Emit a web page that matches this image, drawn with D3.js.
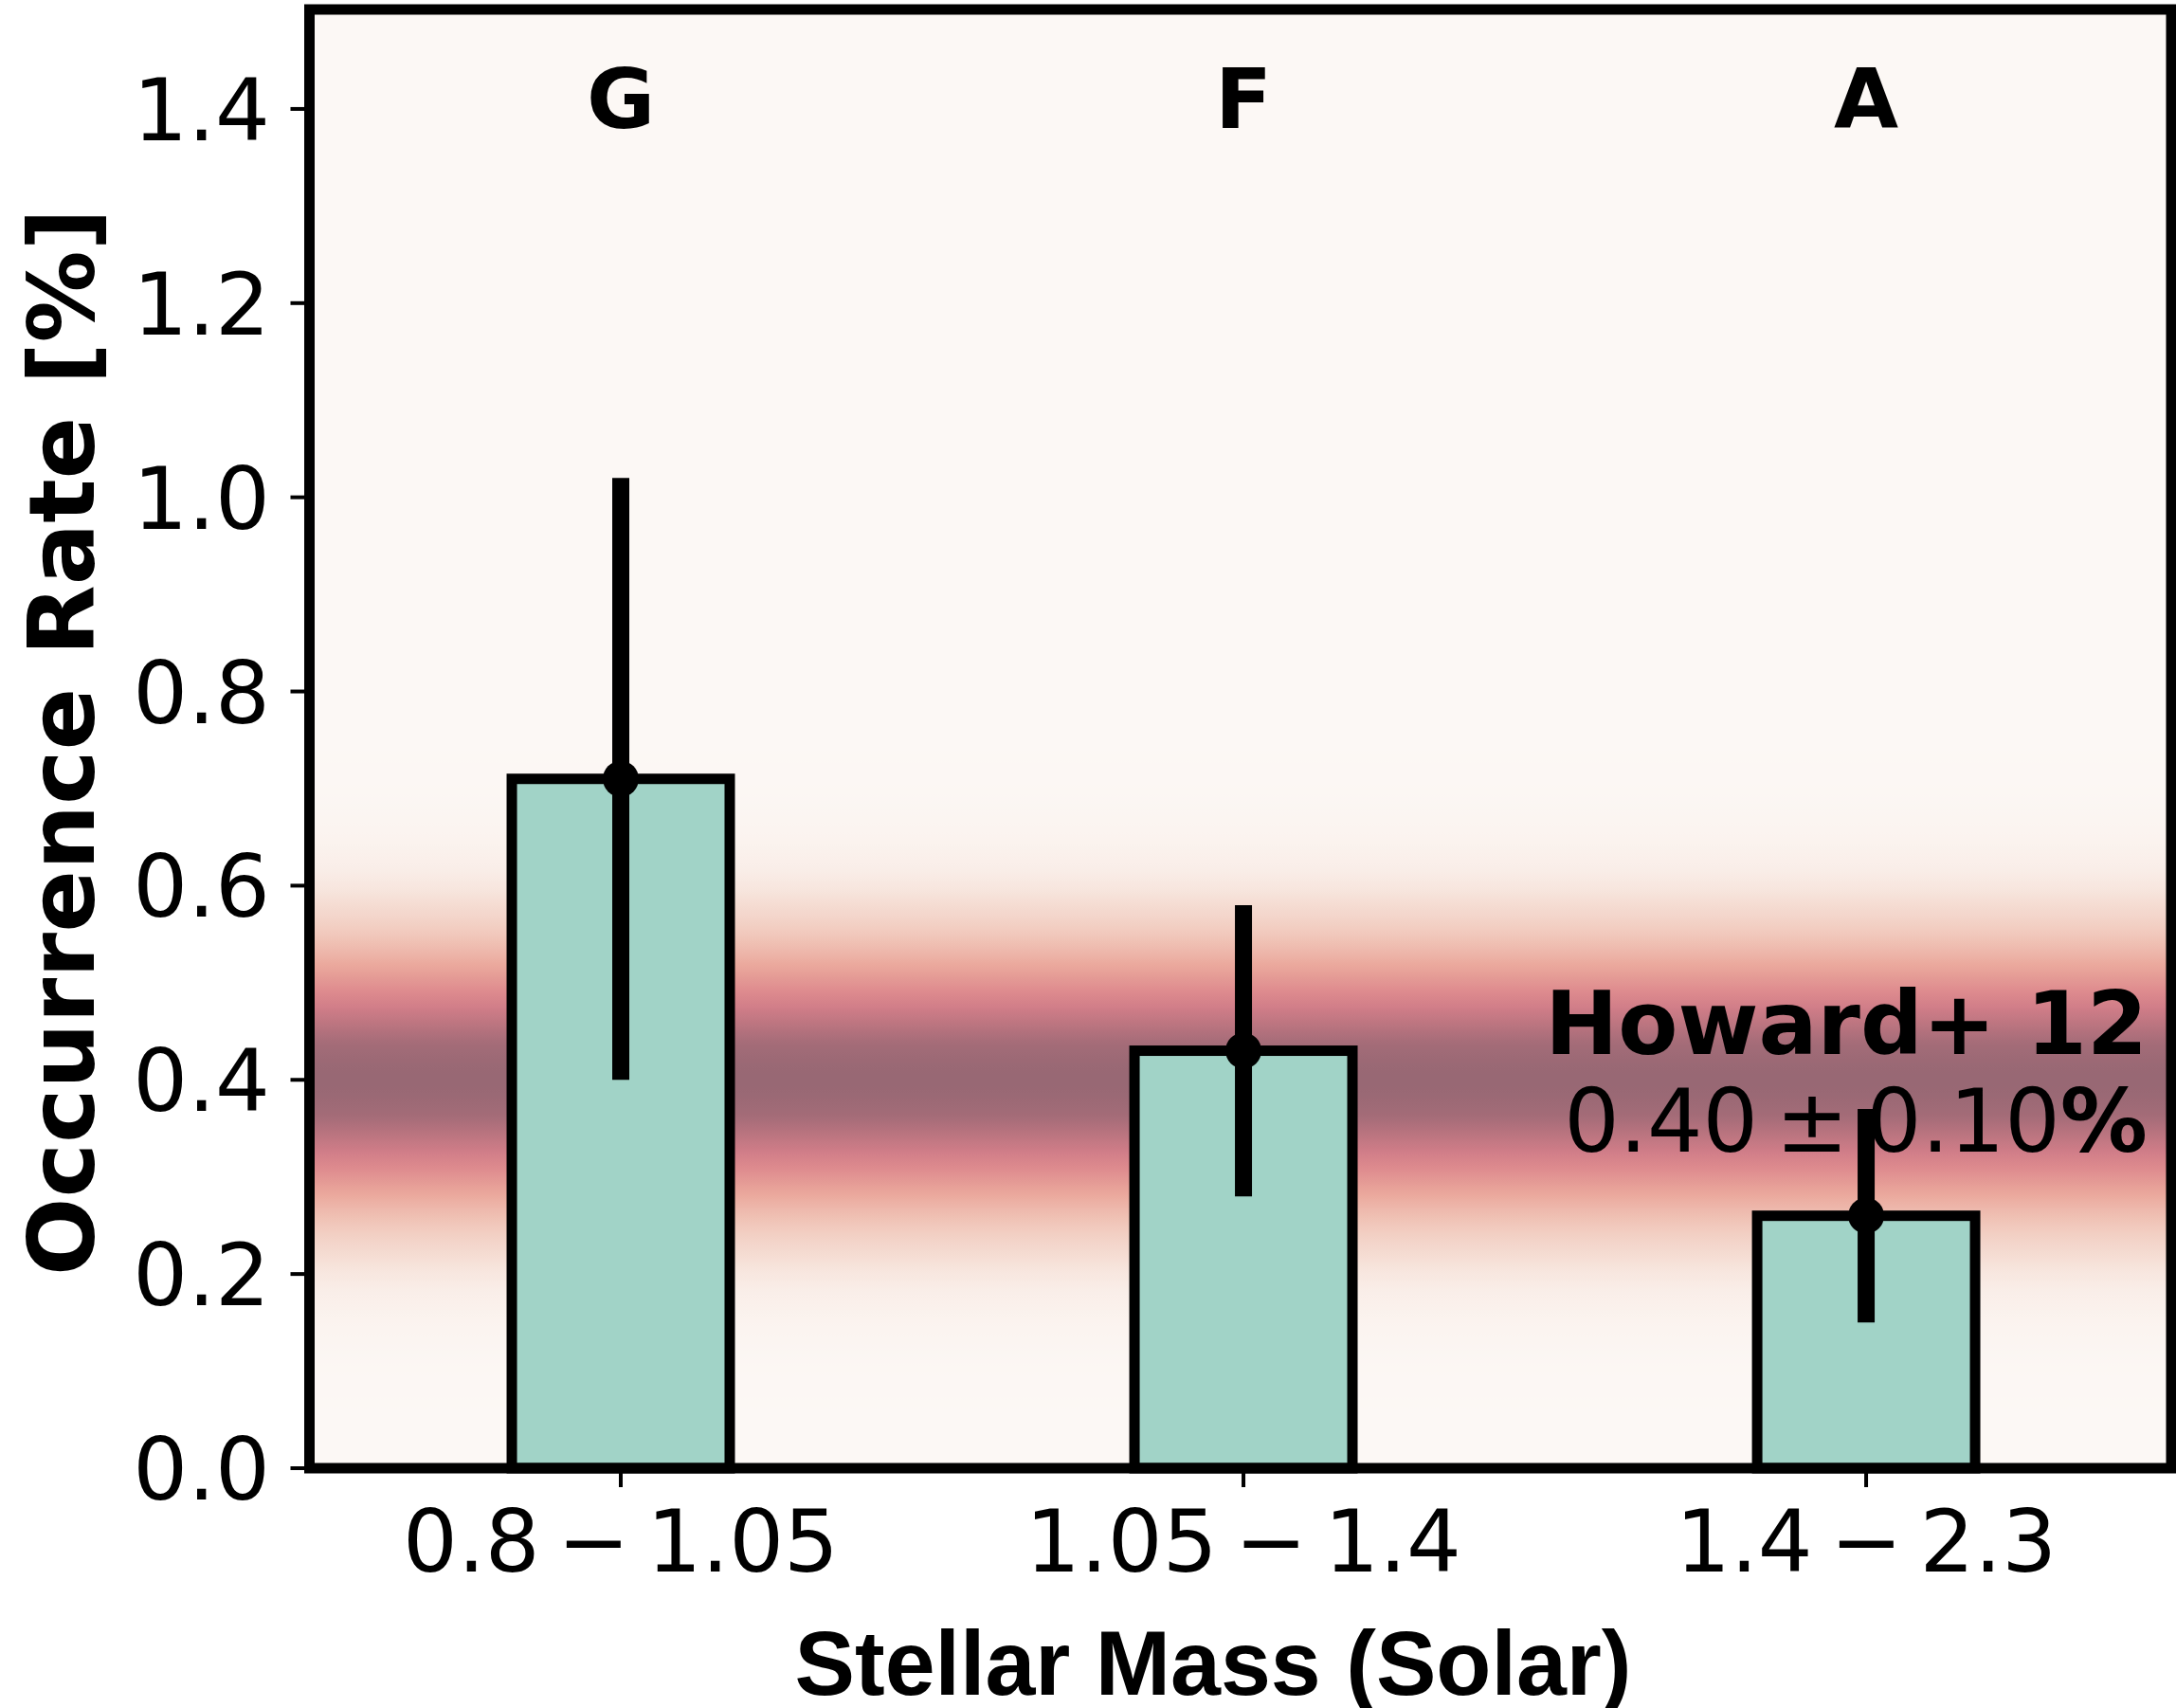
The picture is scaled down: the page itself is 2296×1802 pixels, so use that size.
<!DOCTYPE html>
<html>
<head>
<meta charset="utf-8">
<script src="https://cdn.jsdelivr.net/npm/d3@7"></script>
<style>
  html, body { margin: 0; padding: 0; background: #ffffff; }
  svg { display: block; }
</style>
</head>
<body>
<div id="chart"></div>
<script>
// Stellar-mass bins, spectral classes and occurrence rates
const massBins = ["0.8 \u2212 1.05", "1.05 \u2212 1.4", "1.4 \u2212 2.3"];
const spectralTypes = ["G", "F", "A"];
const occurrence = [0.71, 0.43, 0.26];
const occurrenceErr = [0.31, 0.15, 0.11];
const yTicks = [0.0, 0.2, 0.4, 0.6, 0.8, 1.0, 1.2, 1.4];

// Reference measurement shown as a gaussian band
const refLabel = "Howard+ 12";
const refMean = 0.40;
const refSigma = 0.10;

const W = 2296, H = 1802;
const plot = { left: 326.5, right: 2291, top: 12.5, bottom: 1549 };

const svg = d3.select("#chart").append("svg")
  .attr("width", W).attr("height", H);

const x = d3.scaleLinear().domain([-0.5, 2.49]).range([plot.left, plot.right]);
const y = d3.scaleLinear().domain([0, 1.5]).range([plot.bottom, plot.top]);

// colour ramp used for the gaussian band (weight 0 -> 1)
const bandColor = d3.scaleLinear()
  .domain([0, 0.1, 0.2, 0.35, 0.5, 0.65, 0.75, 0.85, 0.93, 1.0])
  .range(["#fcf8f5", "#f9ede7", "#f5dcd2", "#f0c4b7", "#eaa89c",
          "#df8d8f", "#d27e89", "#bc7580", "#a56c78", "#986874"])
  .interpolate(d3.interpolateRgb);

const defs = svg.append("defs");
const grad = defs.append("linearGradient")
  .attr("id", "refBand")
  .attr("gradientUnits", "userSpaceOnUse")
  .attr("x1", 0).attr("x2", 0)
  .attr("y1", y(0)).attr("y2", y(1.5));
d3.range(0, 1.5001, 0.005).forEach(v => {
  const w = Math.exp(-0.5 * Math.pow((v - refMean) / refSigma, 2));
  grad.append("stop")
    .attr("offset", v / 1.5)
    .attr("stop-color", bandColor(w));
});

svg.append("rect")
  .attr("x", plot.left).attr("y", plot.top)
  .attr("width", plot.right - plot.left)
  .attr("height", plot.bottom - plot.top)
  .attr("fill", "url(#refBand)");

// spectral class labels along the top
svg.append("g").selectAll("text")
  .data(spectralTypes)
  .join("text")
  .attr("x", (d, i) => x(i))
  .attr("y", 135)
  .attr("text-anchor", "middle")
  .attr("font-family", "DejaVu Sans")
  .attr("font-weight", "bold")
  .attr("font-size", 88)
  .text(d => d);

// reference annotation
const ann = svg.append("g")
  .attr("font-family", "DejaVu Sans")
  .attr("font-size", 92)
  .attr("text-anchor", "end");
ann.append("text")
  .attr("x", 2266).attr("y", 1112)
  .attr("font-weight", "bold")
  .text(refLabel);
const annVal = ann.append("text").attr("x", 2266).attr("y", 1215);
annVal.append("tspan").text(refMean.toFixed(2));
annVal.append("tspan").attr("dx", "0.2em").text("\u00b1");
annVal.append("tspan").attr("dx", "0.2em").text(refSigma.toFixed(2));
annVal.append("tspan").attr("font-weight", "bold").text("%");

// bars
const barW = 0.35;
svg.append("g").selectAll("rect")
  .data(occurrence)
  .join("rect")
  .attr("x", (d, i) => x(i - barW / 2))
  .attr("width", x(barW) - x(0))
  .attr("y", d => y(d))
  .attr("height", d => y(0) - y(d))
  .attr("fill", "#a1d3c7")
  .attr("stroke", "#000")
  .attr("stroke-width", 11);

// error bars with central markers
const eb = svg.append("g");
eb.selectAll("line")
  .data(occurrence)
  .join("line")
  .attr("x1", (d, i) => x(i)).attr("x2", (d, i) => x(i))
  .attr("y1", (d, i) => y(d + occurrenceErr[i]))
  .attr("y2", (d, i) => y(d - occurrenceErr[i]))
  .attr("stroke", "#000")
  .attr("stroke-width", 18)
  .attr("stroke-linecap", "butt");
eb.selectAll("circle")
  .data(occurrence)
  .join("circle")
  .attr("cx", (d, i) => x(i))
  .attr("cy", d => y(d))
  .attr("r", 19)
  .attr("fill", "#000");

// y axis
const yAxis = svg.append("g");
yAxis.selectAll("line")
  .data(yTicks)
  .join("line")
  .attr("x1", plot.left - 20).attr("x2", plot.left)
  .attr("y1", d => y(d)).attr("y2", d => y(d))
  .attr("stroke", "#000").attr("stroke-width", 4);
yAxis.selectAll("text")
  .data(yTicks)
  .join("text")
  .attr("x", 285)
  .attr("y", d => y(d) + 33)
  .attr("text-anchor", "end")
  .attr("font-family", "DejaVu Sans")
  .attr("font-size", 91)
  .text(d => d3.format(".1f")(d));

// x axis
const xAxis = svg.append("g");
xAxis.selectAll("line")
  .data(massBins)
  .join("line")
  .attr("x1", (d, i) => x(i)).attr("x2", (d, i) => x(i))
  .attr("y1", plot.bottom).attr("y2", plot.bottom + 20)
  .attr("stroke", "#000").attr("stroke-width", 4);
const xt = xAxis.selectAll("text")
  .data(massBins)
  .join("text")
  .attr("x", (d, i) => x(i))
  .attr("y", 1658)
  .attr("text-anchor", "middle")
  .attr("font-family", "DejaVu Sans")
  .attr("font-size", 91);
xt.each(function(d) {
  const parts = d.split(" \u2212 ");
  const t = d3.select(this);
  t.append("tspan").text(parts[0]);
  t.append("tspan").attr("dx", "0.2em").text("\u2212");
  t.append("tspan").attr("dx", "0.2em").text(parts[1]);
});

// frame
svg.append("rect")
  .attr("x", plot.left).attr("y", plot.top - 2.5)
  .attr("width", plot.right - plot.left)
  .attr("height", plot.bottom - plot.top + 2.5)
  .attr("fill", "none")
  .attr("stroke", "#000")
  .attr("stroke-width", 11);

// axis titles
svg.append("text")
  .attr("transform", "translate(99,783) rotate(-90)")
  .attr("text-anchor", "middle")
  .attr("font-family", "DejaVu Sans")
  .attr("font-weight", "bold")
  .attr("font-size", 97)
  .text("Occurrence Rate [%]");

svg.append("text")
  .attr("x", 1280).attr("y", 1788)
  .attr("text-anchor", "middle")
  .attr("font-family", "Liberation Sans")
  .attr("font-weight", "bold")
  .attr("font-size", 96)
  .attr("textLength", 883)
  .attr("lengthAdjust", "spacingAndGlyphs")
  .text("Stellar Mass (Solar)");
</script>
</body>
</html>
